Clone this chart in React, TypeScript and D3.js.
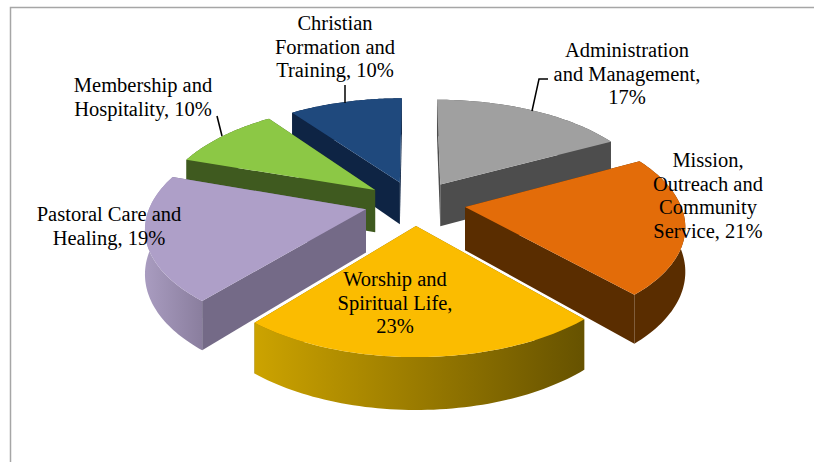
import * as d3 from "d3";

const categories = [
  "Administration and Management",
  "Mission, Outreach and Community Service",
  "Worship and Spiritual Life",
  "Pastoral Care and Healing",
  "Membership and Hospitality",
  "Christian Formation and Training",
];
// unrounded estimates, the labels show them rounded
const shares = [17.2, 21.2, 22.6, 19.2, 9.8, 10.0];

const topColours = ["#a0a0a0", "#e36c09", "#fbbc00", "#ae9fc8", "#8cc845", "#1f497d"];
const wallColours = ["#4d4d4d", "#5a2d00", "#7f6500", "#746a87", "#3f5a1f", "#0e2444"];
const arcColours = [
  ["#4d4d4d", "#4d4d4d"],
  ["#5a2d00", "#5a2d00"],
  ["#cca300", "#665200"],
  ["#a99cc0", "#8a7e9e"],
  ["#3f5a1f", "#3f5a1f"],
  ["#0e2444", "#0e2444"],
];

// wrapped label text, one entry per category
const labelLines = [
  ["Administration", "and Management,", "17%"],
  ["Mission,", "Outreach and", "Community", "Service, 21%"],
  ["Worship and", "Spiritual Life,", "23%"],
  ["Pastoral Care and", "Healing, 19%"],
  ["Membership and", "Hospitality, 10%"],
  ["Christian", "Formation and", "Training, 10%"],
];
const labelAnchors = [
  [627, 57],
  [708, 167],
  [395, 286],
  [109, 221],
  [143, 92],
  [335, 30],
];
const leaders = [
  [[532, 111], [539, 79], [548, 79]],
  [[345, 103], [345, 85]],
  [[222, 136], [217, 116]],
];

const width = 814;
const height = 462;
const centreX = 415;
const centreY = 203;
const radiusX = 215;
const radiusY = 103;
const perspective = 0.154;
const explodeX = 0.235;
const explodeY = 0.216;
const depth = 43;

const project = (u: number, v: number, z: number): [number, number] => {
  const w = 1 / (1 - perspective * v);
  return [centreX + radiusX * u * w, centreY + radiusY * v * w + depth * z * w];
};

const arcs = d3
  .pie<number>()
  .sort(null)
  .startAngle(0)
  .endAngle(2 * Math.PI)(shares);

const line = d3.line();

const slices = arcs.map((arc, i) => {
  const mid = (arc.startAngle + arc.endAngle) / 2;
  const ou = explodeX * Math.sin(mid);
  const ov = -explodeY * Math.cos(mid);
  const steps = d3.range(0, 61).map((s) => arc.startAngle + ((arc.endAngle - arc.startAngle) * s) / 60);
  const rim = steps.map((t) => [ou + Math.sin(t), ov - Math.cos(t)]);
  const apex = [ou, ov];
  const rimTop = rim.map((p) => project(p[0], p[1], 0));
  const rimBottom = rim.map((p) => project(p[0], p[1], 1)).reverse();
  const apexTop = project(apex[0], apex[1], 0);
  const inner = rimTop[30];

  // a radial wall shows only if the top face lies above its edge on screen
  const wall = (p: number[], corner: [number, number]) => {
    const dx = corner[0] - apexTop[0];
    const dy = corner[1] - apexTop[1];
    const cross = dx * (inner[1] - apexTop[1]) - dy * (inner[0] - apexTop[0]);
    return {
      front: Math.sign(dx) * cross < 0,
      d: line([apexTop, corner, project(p[0], p[1], 1), project(apex[0], apex[1], 1)]) + "Z",
    };
  };
  const walls = [wall(rim[0], rimTop[0]), wall(rim[60], rimTop[60])];
  const top = line([apexTop, ...rimTop]) + "Z";
  const arcWall = line([...rimTop, ...rimBottom]) + "Z";
  const xs = rimTop.map((p) => p[0]);
  return { i, walls, top, arcWall, x0: d3.min(xs)!, x1: d3.max(xs)! };
});

// painter's order, far slices first
const drawOrder = [5, 0, 4, 3, 1, 2];

export default function App() {
  return (
    <svg
      width={width}
      height={height}
      viewBox={`0 0 ${width} ${height}`}
      style={{ position: "absolute", left: 0, top: 0, background: "#fff" }}
    >
      <defs>
        {slices.map((s) => (
          <linearGradient
            key={s.i}
            id={`arc-${s.i}`}
            gradientUnits="userSpaceOnUse"
            x1={s.x0}
            x2={s.x1}
            y1={0}
            y2={0}
          >
            <stop offset="0%" stopColor={arcColours[s.i][0]} />
            <stop offset="100%" stopColor={arcColours[s.i][1]} />
          </linearGradient>
        ))}
      </defs>
      <path d={`M10.5,462V7.5H${width}`} fill="none" stroke="#a6a6a6" strokeWidth={1.5} />
      {drawOrder.map((i) => {
        const s = slices[i];
        return (
          <g key={categories[i]}>
            {s.walls.filter((w) => !w.front).map((w, j) => (
              <path key={j} d={w.d} fill={wallColours[i]} />
            ))}
            <path d={s.arcWall} fill={`url(#arc-${i})`} />
            {s.walls.filter((w) => w.front).map((w, j) => (
              <path key={j} d={w.d} fill={wallColours[i]} />
            ))}
            <path d={s.top} fill={topColours[i]} />
          </g>
        );
      })}
      {leaders.map((pts, i) => (
        <path key={i} d={line(pts as [number, number][])!} fill="none" stroke="#000" strokeWidth={1.5} />
      ))}
      {labelLines.map((lines, i) => (
        <text
          key={i}
          x={labelAnchors[i][0]}
          y={labelAnchors[i][1]}
          textAnchor="middle"
          fontFamily="'Liberation Serif', serif"
          fontSize={20.5}
          fill="#000"
        >
          {lines.map((t, j) => (
            <tspan key={j} x={labelAnchors[i][0]} dy={j === 0 ? 0 : 23.6}>
              {t}
            </tspan>
          ))}
        </text>
      ))}
    </svg>
  );
}
